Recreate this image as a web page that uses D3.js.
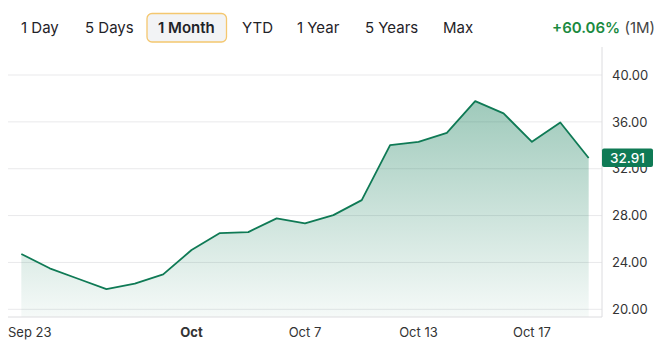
<!DOCTYPE html>
<html>
<head>
<meta charset="utf-8">
<script src="https://cdn.jsdelivr.net/npm/d3@7"></script>
<style>
  html, body { margin: 0; padding: 0; background: #fff; }
  body { font-family: Inter, "Noto Sans", sans-serif; }
</style>
</head>
<body>
<svg id="chart" width="666" height="354"></svg>
<script>
const dates = [
  "2025-09-23", "2025-09-24", "2025-09-25", "2025-09-26", "2025-09-29", "2025-09-30",
  "2025-10-01", "2025-10-02", "2025-10-03", "2025-10-06", "2025-10-07", "2025-10-08",
  "2025-10-09", "2025-10-10", "2025-10-13", "2025-10-14", "2025-10-15", "2025-10-16",
  "2025-10-17", "2025-10-20", "2025-10-21"
];
const prices = [
  24.72, 23.50, 22.61, 21.73, 22.19, 22.98,
  25.06, 26.51, 26.59, 27.76, 27.33, 28.04,
  29.32, 34.01, 34.30, 35.06, 37.77, 36.72,
  34.30, 35.95, 32.91
];
const yTicks = [20, 24, 28, 32, 36, 40];
const xTicks = [
  { date: "2025-09-23", label: "Sep 23", bold: false },
  { date: "2025-10-01", label: "Oct", bold: true },
  { date: "2025-10-07", label: "Oct 7", bold: false },
  { date: "2025-10-13", label: "Oct 13", bold: false },
  { date: "2025-10-17", label: "Oct 17", bold: false }
];
const ranges = ["1 Day", "5 Days", "1 Month", "YTD", "1 Year", "5 Years", "Max"];
const activeRange = "1 Month";
const changeText = "+60.06%";
const periodText = "(1M)";

const green = "#0f7a55";
const plot = { left: 8, right: 602, top: 47, bottom: 317 };

const svg = d3.select("#chart");

// range buttons
const rangeX = [21, 85, 158, 242, 297, 365, 443];
const btns = svg.append("g");
ranges.forEach((r, i) => {
  const active = r === activeRange;
  if (active) {
    btns.append("rect")
      .attr("x", 147).attr("y", 13.5)
      .attr("width", 79.5).attr("height", 28.5)
      .attr("rx", 5)
      .attr("fill", "#f2f3f5")
      .attr("stroke", "#f4c76f")
      .attr("stroke-width", 1.3);
  }
  btns.append("text")
    .attr("x", rangeX[i]).attr("y", 32.5)
    .attr("font-size", "15px")
    .attr("font-weight", active ? 600 : 400)
    .attr("fill", "#1f2328")
    .text(r);
});

const change = svg.append("text")
  .attr("x", 655).attr("y", 32.5)
  .attr("text-anchor", "end")
  .attr("font-size", "15px");
change.append("tspan").attr("fill", "#1b8a3f").attr("font-weight", 600).text(changeText);
change.append("tspan").attr("fill", "#444").text(" " + periodText);

const x = d3.scalePoint()
  .domain(dates)
  .range([plot.left, plot.right])
  .padding(0.47);

const y = d3.scaleLinear()
  .domain([20, 40])
  .range([309.3, 75]);

// gridlines
svg.append("g")
  .selectAll("line")
  .data(yTicks)
  .join("line")
  .attr("x1", plot.left).attr("x2", plot.right)
  .attr("y1", (d) => y(d)).attr("y2", (d) => y(d))
  .attr("stroke", "#e9e9eb")
  .attr("stroke-width", 1);

// area gradient
const defs = svg.append("defs");
const grad = defs.append("linearGradient")
  .attr("id", "areaGrad")
  .attr("x1", 0).attr("y1", 0).attr("x2", 0).attr("y2", 1)
  .attr("gradientUnits", "userSpaceOnUse")
  .attr("y1", y(37.77)).attr("y2", plot.bottom);
grad.append("stop").attr("offset", "0%").attr("stop-color", green).attr("stop-opacity", 0.4);
grad.append("stop").attr("offset", "100%").attr("stop-color", green).attr("stop-opacity", 0.04);

const pts = dates.map((d, i) => ({ date: d, value: prices[i] }));

svg.append("path")
  .datum(pts)
  .attr("fill", "url(#areaGrad)")
  .attr("d", d3.area()
    .x((d) => x(d.date))
    .y0(plot.bottom)
    .y1((d) => y(d.value)));

svg.append("path")
  .datum(pts)
  .attr("fill", "none")
  .attr("stroke", green)
  .attr("stroke-width", 1.8)
  .attr("stroke-linejoin", "round")
  .attr("d", d3.line()
    .x((d) => x(d.date))
    .y((d) => y(d.value)));

// axis frame
svg.append("line")
  .attr("x1", plot.right).attr("x2", plot.right)
  .attr("y1", plot.top).attr("y2", plot.bottom)
  .attr("stroke", "#dcdcdf");
svg.append("line")
  .attr("x1", plot.left).attr("x2", plot.right)
  .attr("y1", plot.bottom).attr("y2", plot.bottom)
  .attr("stroke", "#dcdcdf");

// y labels
svg.append("g")
  .attr("transform", `translate(${plot.right},0)`)
  .call(d3.axisRight(y).tickValues(yTicks).tickFormat(d3.format(".2f")).tickSize(0).tickPadding(10))
  .call((g) => g.select(".domain").remove())
  .call((g) => g.selectAll("text")
    .attr("fill", "#333")
    .attr("font-size", "13px")
    .attr("font-family", "Inter, sans-serif"));

// x labels
svg.append("g")
  .selectAll("text")
  .data(xTicks)
  .join("text")
  .attr("x", (d, i) => i === 0 ? plot.left : x(d.date))
  .attr("y", 337)
  .attr("text-anchor", (d, i) => i === 0 ? "start" : "middle")
  .attr("font-size", "13px")
  .attr("font-weight", (d) => d.bold ? 700 : 400)
  .attr("fill", "#333")
  .text((d) => d.label);

// last price badge
const last = pts[pts.length - 1];
const badge = svg.append("g")
  .attr("transform", `translate(${plot.right},${y(last.value)})`);
badge.append("rect")
  .attr("x", 0).attr("y", -9.5)
  .attr("width", 51).attr("height", 18.5)
  .attr("rx", 2)
  .attr("fill", green);
badge.append("text")
  .attr("x", 25.5).attr("y", 4.8)
  .attr("text-anchor", "middle")
  .attr("font-size", "13.5px")
  .attr("font-weight", 500)
  .attr("fill", "#fff")
  .text(d3.format(".2f")(last.value));
</script>
</body>
</html>
